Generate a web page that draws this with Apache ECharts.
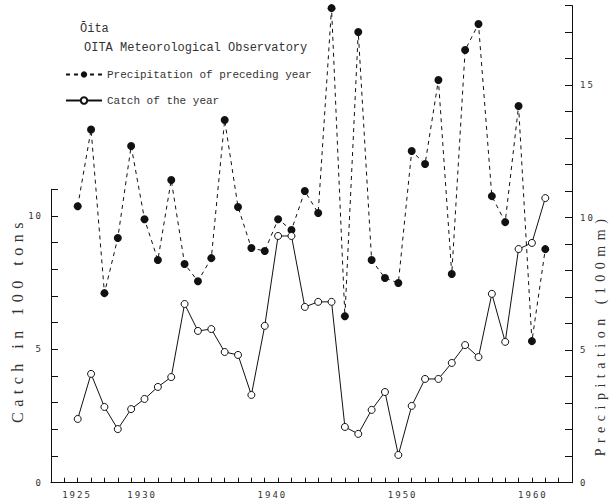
<!DOCTYPE html>
<html><head><meta charset="utf-8">
<script src="https://cdn.jsdelivr.net/npm/echarts@6/dist/echarts.min.js"></script>
<style>
html,body{margin:0;padding:0;background:#fff;}
#c{width:611px;height:504px;}
#c text[style*="DejaVu Sans Mono"]{letter-spacing:2px;}
#c text[style*="Liberation Serif"]{letter-spacing:5.5px;}
</style></head><body><div id="c"></div>
<script>
// ---- data ----
const years = [1925,1926,1927,1928,1929,1930,1931,1932,1933,1934,1935,1936,1937,1938,1939,1940,1941,1942,1943,1944,1945,1946,1947,1948,1949,1950,1951,1952,1953,1954,1955,1956,1957,1958,1959,1960];
// precipitation of preceding year (100mm) - right axis
const precipitation = [10.43,13.32,7.15,9.23,12.70,9.94,8.40,11.42,8.25,7.60,8.47,13.68,10.40,8.85,8.74,9.94,9.53,11.0,10.17,17.9,6.28,17.0,8.40,7.72,7.53,12.51,12.02,15.19,7.87,16.32,17.30,10.81,9.83,14.21,5.34,8.81];
// catch of the year (100 tons) - left axis
const catchOfYear = [2.39,4.08,2.84,2.01,2.76,3.14,3.59,3.96,6.70,5.69,5.76,4.90,4.79,3.29,5.88,9.25,9.25,6.59,6.78,6.78,2.09,1.83,2.73,3.40,1.04,2.88,3.89,3.89,4.49,5.16,4.71,7.08,5.28,8.76,8.99,10.67];
const xTickLabels = [1925,1930,1940,1950,1960];
const leftTickLabels = [0,5,10];
const rightTickLabels = [0,5,10,15];
const titleMain = 'Ōita';
const titleSub = 'OITA Meteorological Observatory';
const precipName = 'Precipitation of preceding year';
const catchName = 'Catch of the year';
const leftAxisName = 'Catch in 100 tons';
const rightAxisName = 'Precipitation (100mm)';

// ---- chart ----
const INK = '#111';
const TXT = '#333';
const chart = echarts.init(document.getElementById('c'), null, {renderer:'svg'});
const gridL = 51, gridW = 521;
const tickFont = {color: TXT, fontFamily: 'DejaVu Sans Mono', fontSize: 9};
chart.setOption({
  animation: false,
  backgroundColor: '#fff',
  title: [
    {text: titleMain, left: 80, top: 23, padding: 0, textStyle:{fontFamily:'Liberation Mono', fontSize:12, fontWeight:'normal', color:TXT}},
    {text: titleSub, left: 84, top: 42, padding: 0, textStyle:{fontFamily:'Liberation Mono', fontSize:12, fontWeight:'normal', color:TXT}}
  ],
  legend: {
    orient: 'vertical', left: 65, top: 69, padding: 0, itemWidth: 36, itemHeight: 8, itemGap: 15,
    textStyle: {fontFamily:'Liberation Mono', fontSize: 11, color: TXT},
    data: [precipName, catchName]
  },
  grid: [
    {left: gridL, width: gridW, top: 189.3, height: 293.4},
    {left: gridL, width: gridW, top: 5.5, height: 477.2},
    {left: gridL, width: gridW, top: 5.5, height: 477.2}
  ],
  xAxis: [
    {gridIndex:0, type:'value', min:1923, max:1962, interval:1, position:'bottom',
     axisLine:{show:true, lineStyle:{color:INK, width:1}},
     axisTick:{show:true, inside:true, length:5, lineStyle:{color:INK}},
     axisLabel:{show:false}, splitLine:{show:false}},
    {gridIndex:1, type:'value', min:1923, max:1962, show:false},
    {gridIndex:2, type:'value', min:1923, max:1963, interval:1, position:'bottom',
     axisLine:{show:false}, axisTick:{show:false}, splitLine:{show:false},
     axisLabel:{show:true, margin:8, ...tickFont, formatter: v => xTickLabels.includes(v) ? String(v) : ''}}
  ],
  yAxis: [
    {gridIndex:0, type:'value', min:0, max:11, interval:1, position:'left',
     axisLine:{show:true, lineStyle:{color:INK, width:1}},
     axisTick:{show:true, inside:true, length:7, lineStyle:{color:INK}},
     axisLabel:{show:true, margin:8, ...tickFont, formatter: v => leftTickLabels.includes(v) ? String(v) : ''},
     splitLine:{show:false}},
    {gridIndex:1, type:'value', min:0, max:18, interval:1, position:'right',
     axisLine:{show:true, lineStyle:{color:INK, width:1}},
     axisTick:{show:true, inside:true, length:7, lineStyle:{color:INK}},
     axisLabel:{show:true, margin:8, ...tickFont, formatter: v => rightTickLabels.includes(v) ? String(v) : ''},
     splitLine:{show:false}},
    {gridIndex:2, type:'value', min:0, max:18, show:false}
  ],
  graphic: [
    {type:'text', x: 17, y: 320, rotation: Math.PI/2,
     style:{text: leftAxisName, fill: TXT, font: '16px "Liberation Serif"', textAlign:'center', textVerticalAlign:'middle'}},
    {type:'text', x: 600, y: 335, rotation: Math.PI/2,
     style:{text: rightAxisName, fill: TXT, font: '14px "Liberation Serif"', textAlign:'center', textVerticalAlign:'middle'}}
  ],
  series: [
    {name: precipName, type:'line', xAxisIndex:1, yAxisIndex:1,
     data: years.map((y,i)=>[y, precipitation[i]]),
     symbol:'circle', symbolSize:8, clip:false,
     lineStyle:{color:INK, width:1, type:[4,4]},
     itemStyle:{color:INK}},
    {name: catchName, type:'line', xAxisIndex:0, yAxisIndex:0,
     data: years.map((y,i)=>[y, catchOfYear[i]]),
     symbol:'circle', symbolSize:7, clip:false,
     lineStyle:{color:INK, width:1},
     itemStyle:{color:'#fff', borderColor:INK, borderWidth:1}}
  ]
});
</script></body></html>
